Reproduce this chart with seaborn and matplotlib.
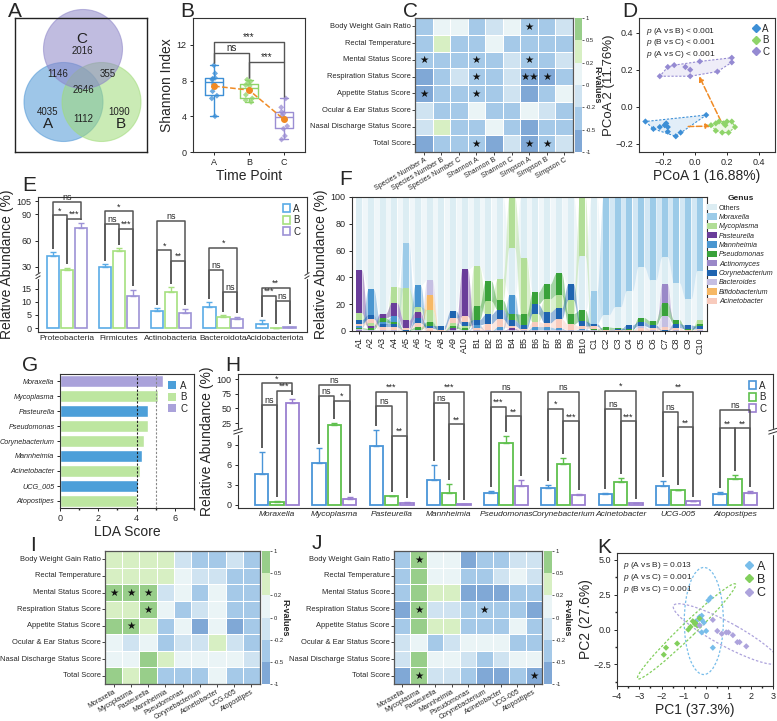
import numpy as np
import pandas as pd
import matplotlib
matplotlib.use("Agg")
import matplotlib.pyplot as plt
import seaborn as sns
from matplotlib.patches import Circle, Polygon, Ellipse, Patch
from matplotlib.colors import ListedColormap, BoundaryNorm
from matplotlib.lines import Line2D
from matplotlib.ticker import MultipleLocator

# ======================= DATA =======================
groups = ["A", "B", "C"]

# Panel A (Venn counts)
venn_set_labels = ["A", "B", "C"]
venn_only = [4035, 1090, 2016]          # A only, B only, C only
venn_pairs = [1112, 1146, 355]          # AB, AC, BC
venn_all = 2646

# Panel B (Shannon index per sample)
shannon_A = [9.7, 8.8, 8.3, 8.2, 8.1, 7.6, 6.8, 6.3, 6.0, 4.0]
shannon_B = [8.1, 7.9, 7.7, 7.5, 7.4, 6.9, 6.4, 6.0, 5.8, 5.6]
shannon_C = [6.0, 5.0, 4.5, 4.3, 4.1, 3.8, 2.9, 2.6, 1.8, 1.4]

# Panel C / I / J heatmaps
hm_rows = ["Body Weight Gain Ratio", "Rectal Temperature", "Mental Status Score",
           "Respiration Status Score", "Appetite Status Score", "Ocular & Ear Status Score",
           "Nasal Discharge Status Score", "Total Score"]
C_cols = ["Species Number A", "Species Number B", "Species Number C", "Shannon A",
          "Shannon B", "Shannon C", "Simpson A", "Simpson B", "Simpson C"]
C_vals = [
    [-0.3, 0.1, 0.1, -0.3, -0.1, 0.1, -0.3, -0.3, -0.1],
    [-0.3, 0.3, -0.3, -0.3, 0.1, -0.3, -0.4, -0.3, -0.3],
    [-0.4, -0.3, -0.3, -0.4, -0.3, -0.1, -0.4, -0.3, -0.1],
    [-0.6, -0.4, -0.1, -0.45, -0.3, -0.15, -0.6, -0.55, -0.3],
    [-0.55, -0.4, -0.3, -0.45, -0.3, -0.15, -0.55, -0.3, 0.05],
    [-0.1, -0.3, -0.3, 0.05, -0.3, -0.3, 0.05, -0.1, -0.3],
    [-0.15, 0.3, -0.3, -0.3, 0.05, -0.3, -0.55, -0.3, -0.3],
    [-0.55, -0.3, -0.3, -0.45, -0.55, -0.15, -0.55, -0.4, -0.15],
]
C_stars = [(0, 6, "★"), (2, 0, "★"), (2, 3, "★"), (2, 6, "★"), (3, 3, "★"),
           (3, 6, "★★"), (3, 7, "★"), (4, 0, "★"), (4, 3, "★"), (7, 3, "★"),
           (7, 6, "★"), (7, 7, "★")]

genus9 = ["Moraxella", "Mycoplasma", "Pasteurella", "Mannheimia", "Pseudomonas",
          "Corynebacterium", "Acinetobacter", "UCG-005", "Atopostipes"]
I_vals = [
    [0.3, 0.3, 0.3, 0.3, -0.1, -0.3, -0.3, -0.1, -0.3],
    [0.3, 0.3, 0.3, 0.3, 0.05, -0.1, -0.1, -0.3, -0.3],
    [0.6, 0.6, 0.6, -0.1, 0.05, -0.3, 0.05, -0.3, -0.3],
    [0.3, 0.3, 0.6, 0.05, -0.3, -0.1, 0.05, -0.3, -0.3],
    [0.6, 0.6, 0.3, -0.3, 0.05, -0.6, 0.05, -0.6, -0.3],
    [0.05, -0.1, 0.05, -0.3, -0.1, -0.1, 0.3, -0.1, -0.3],
    [0.05, 0.05, 0.6, 0.3, 0.05, 0.05, 0.05, 0.05, -0.1],
    [0.6, 0.3, 0.6, -0.3, -0.3, -0.3, 0.05, -0.3, -0.3],
]
I_stars = [(2, 0, "★"), (2, 1, "★"), (2, 2, "★"), (3, 2, "★"), (4, 1, "★")]
J_vals = [
    [-0.3, 0.6, 0.05, 0.05, -0.6, -0.3, -0.3, -0.1, -0.1],
    [-0.3, 0.6, 0.05, 0.05, -0.3, -0.3, -0.1, 0.05, -0.1],
    [-0.3, 0.6, 0.3, 0.3, -0.6, -0.6, -0.6, -0.3, -0.3],
    [-0.6, 0.6, -0.1, -0.1, -0.3, -0.3, -0.3, -0.3, -0.6],
    [-0.3, 0.6, 0.3, 0.3, -0.3, -0.3, -0.3, 0.05, -0.3],
    [-0.1, 0.05, -0.3, -0.1, 0.05, 0.05, 0.05, -0.3, -0.3],
    [-0.1, 0.6, 0.05, 0.05, -0.1, -0.3, -0.1, 0.05, 0.05],
    [-0.6, 0.6, -0.1, -0.1, -0.3, -0.6, -0.6, -0.3, -0.6],
]
J_stars = [(0, 1, "★"), (3, 1, "★"), (3, 5, "★"), (7, 1, "★"), (7, 8, "★")]

# Panel D (PCoA)
D_A_x = [-0.31, -0.26, -0.22, -0.19, -0.18, -0.17, -0.17, -0.12, -0.09, 0.07]
D_A_y = [-0.08, -0.12, -0.11, -0.10, -0.09, -0.11, -0.135, -0.16, -0.14, -0.045]
D_B_x = [0.10, 0.13, 0.15, 0.18, 0.19, 0.20, 0.23, 0.25, 0.21, 0.17, 0.13]
D_B_y = [-0.10, -0.09, -0.08, -0.09, -0.10, -0.08, -0.08, -0.11, -0.14, -0.14, -0.13]
D_C_x = [-0.22, -0.17, -0.13, -0.06, -0.03, 0.03, -0.03, 0.14, 0.23, 0.23]
D_C_y = [0.165, 0.215, 0.225, 0.215, 0.20, 0.245, 0.165, 0.19, 0.265, 0.24]
D_pvals = ["(A vs B) < 0.001", "(B vs C) < 0.001", "(A vs C) < 0.001"]

# Panel E (phylum abundance, mean and SE)
phyla = ["Proteobacteria", "Firmicutes", "Actinobacteria", "Bacteroidota", "Acidobacteriota"]
E_A = [42.0, 30.0, 6.5, 7.9, 1.6]
E_A_err = [5.0, 3.2, 1.0, 1.9, 1.3]
E_B = [26.5, 48.0, 13.7, 4.2, 0.15]
E_B_err = [2.3, 3.5, 1.8, 0.7, 0.05]
E_C = [75.0, 12.4, 5.6, 3.3, 0.3]
E_C_err = [4.8, 2.2, 1.8, 1.0, 0.05]
E_sig = [(0, 0, 2, 104, "ns"), (0, 0, 1, 89, "*"), (0, 1, 2, 85, "***"),
         (1, 0, 2, 93.5, "*"), (1, 0, 1, 79, "ns"), (1, 1, 2, 73.5, "***"),
         (2, 0, 2, 82, "ns"), (2, 0, 1, 49, "*"), (2, 1, 2, 37, "**"),
         (3, 0, 2, 52, "*"), (3, 0, 1, 26.5, "ns"), (3, 1, 2, 13.8, "ns"),
         (4, 0, 2, 15.4, "**"), (4, 0, 1, 12.2, "***"), (4, 1, 2, 10.3, "ns")]

# Panel F (genus composition per sample, %)
samples = [f"A{i}" for i in range(1, 11)] + [f"B{i}" for i in range(1, 11)] + [f"C{i}" for i in range(1, 11)]
F_Moraxella = [0, 0, 0, 0, 34, 0, 0, 0, 0, 0] + [0] * 10 + [24, 88, 82, 70, 52, 62, 45, 64, 76, 55]
F_Mycoplasma = [5, 2, 0, 12, 24, 4, 9, 0, 2, 2] + [30, 10, 16, 38, 42, 6, 10, 10, 10, 44] + [0, 0, 0, 0, 0, 0, 0, 0, 0, 3]
F_Pasteurella = [32, 2, 3, 10, 6, 4, 0, 0, 1, 35] + [0, 0, 0, 1, 0, 0, 0, 0, 0, 0] + [0] * 10
F_Mannheimia = [1, 19, 2, 4, 0, 16, 0, 0, 0, 0] + [2, 0, 2, 14, 0, 2, 2, 1, 0, 1] + [0] * 10
F_Pseudomonas = [1, 1, 3, 2, 0.5, 2, 3, 0, 2, 1] + [10, 15, 7, 5, 8, 9, 11, 16, 8, 8] + [1, 2, 1, 1, 3, 3, 10, 3, 1, 2]
F_Actinomyces = [0.5, 0, 0, 0, 0, 0, 0, 0, 0, 0] + [0] * 10 + [0, 0, 0, 0, 0, 0, 14, 0, 0, 0]
F_Corynebacterium = [3, 3, 2, 2, 0.5, 4, 2, 3, 5, 3] + [4, 7, 7, 4, 3, 7, 8, 8, 12, 4] + [2, 0.5, 1, 3, 3, 2, 1, 3, 3, 2]
F_Bacteroides = [1, 1, 1, 1, 0, 1, 11, 0, 1, 1] + [0.5, 0.5, 1, 1, 0.5, 1, 1, 1, 1, 0.5] + [0.5, 0, 0, 0, 2, 0.5, 8, 0.5, 0, 0.5]
F_Bifidobacterium = [0, 0, 0, 0, 0, 0, 11, 0, 0, 0] + [0] * 10 + [0] * 10
F_Acinetobacter = [2, 3, 2, 2, 1, 3, 2, 1, 4, 4] + [2, 5, 6, 2, 1, 4, 3, 7, 4, 2] + [2, 0.5, 0.5, 0.5, 2, 2, 2, 2, 0.5, 1]

# Panel G (LEfSe)
G_genus = ["Moraxella", "Mycoplasma", "Pasteurella", "Pseudomonas", "Corynebacterium",
           "Mannheimia", "Acinetobacter", "UCG_005", "Atopostipes"]
G_score = [5.4, 5.1, 4.6, 4.6, 4.4, 4.3, 4.2, 4.1, 4.0]
G_group = ["C", "B", "A", "B", "B", "A", "B", "A", "B"]

# Panel H (genus abundance, mean and SE)
H_A = [4.65, 6.25, 8.85, 3.65, 1.75, 2.5, 1.6, 2.9, 1.6]
H_A_err = [3.2, 2.25, 4.0, 2.35, 0.35, 0.5, 0.15, 0.7, 0.3]
H_B = [0.4, 22.2, 1.3, 1.75, 9.25, 6.1, 3.4, 2.2, 3.9]
H_B_err = [0.15, 2.3, 0.05, 1.4, 1.05, 0.9, 0.6, 0.1, 0.5]
H_C = [58.7, 0.9, 0.35, 0.1, 2.85, 1.45, 0.3, 0.6, 1.8]
H_C_err = [6.9, 0.3, 0.05, 0.02, 0.9, 0.15, 0.05, 0.05, 0.3]
H_sig = [(0, 0, 2, 93, "*"), (0, 0, 1, 55.7, "ns"), (0, 1, 2, 80, "***"),
         (1, 0, 2, 91, "ns"), (1, 0, 1, 72, "ns"), (1, 1, 2, 62.7, "*"),
         (2, 0, 2, 79, "***"), (2, 0, 1, 54, "ns"), (2, 1, 2, 10.3, "**"),
         (3, 0, 2, 79, "***"), (3, 0, 1, 60, "ns"), (3, 1, 2, 22.7, "**"),
         (4, 0, 2, 78, "ns"), (4, 0, 1, 52.8, "***"), (4, 1, 2, 36.6, "**"),
         (5, 0, 2, 78, "ns"), (5, 0, 1, 49, "*"), (5, 1, 2, 28, "***"),
         (6, 0, 2, 80, "*"), (6, 0, 1, 49, "ns"), (6, 1, 2, 28, "***"),
         (7, 0, 2, 78, "**"), (7, 0, 1, 43.6, "ns"), (7, 1, 2, 17.5, "**"),
         (8, 0, 2, 47, "ns"), (8, 0, 1, 16, "**"), (8, 1, 2, 16, "**")]

# Panel K (PCA)
K_A_x = [0.2, 0.1, -0.2, -0.3, -0.45, -0.2, -0.1, -0.3, 0.0, -0.2, 0.3]
K_A_y = [2.3, 2.1, 1.0, 0.9, 0.6, 0.7, 0.5, 0.3, -0.1, -0.2, -1.3]
K_B_x = [-0.6, -0.5, -0.4, -0.5, -0.7, -0.8, -1.3, -1.8, -1.9, -0.3]
K_B_y = [0.6, 0.5, 0.3, 0.4, 0.2, 0.0, -1.0, -1.3, -1.8, 0.8]
K_C_x = [0.3, 0.5, 0.9, 1.0, 1.2, 1.4, 1.5, 1.8, -0.3, 0.7]
K_C_y = [0.7, -0.1, -0.2, -0.2, -0.4, -0.9, -0.9, -1.2, 0.3, -0.3]
K_pvals = ["(A vs B) = 0.013", "(A vs C) = 0.001", "(B vs C) = 0.001"]

# ======================= STYLE =======================
sns.set_theme(style="ticks")
plt.rcParams.update({
    "font.family": ["Liberation Sans", "DejaVu Sans"],
    "mathtext.fontset": "custom", "mathtext.rm": "Liberation Sans",
    "mathtext.it": "Liberation Sans:italic",
    "axes.linewidth": 0.8, "axes.edgecolor": "#333333",
    "xtick.major.size": 2.5, "ytick.major.size": 2.5,
    "xtick.major.width": 0.7, "ytick.major.width": 0.7,
    "xtick.minor.size": 1.5, "ytick.minor.size": 1.5,
    "xtick.labelsize": 6.5, "ytick.labelsize": 6.5,
    "xtick.major.pad": 2, "ytick.major.pad": 2,
})

W, H = 777, 721
fig = plt.figure(figsize=(W / 100, H / 100), dpi=100)


def place(x0, y0, x1, y1):
    return fig.add_axes([x0 / W, 1 - y1 / H, (x1 - x0) / W, (y1 - y0) / H])


def letter(x, y, s):
    fig.text(x / W, 1 - y / H, s, fontsize=15, va="top", ha="left")


for (lx, ly, s) in [(8, 2, "A"), (180, 2, "B"), (403, 2, "C"), (622, 2, "D"), (22, 176, "E"),
                    (339, 170, "F"), (22, 356, "G"), (225, 356, "H"), (30, 536, "I"),
                    (312, 534, "J"), (597, 538, "K")]:
    letter(lx, ly, s)

# ======================= A: Venn =======================
axA = place(15, 18, 147, 152)
axA.set_xlim(15, 147)
axA.set_ylim(152, 18)
axA.set_xticks([])
axA.set_yticks([])
for sp in axA.spines.values():
    sp.set_color("#222222")
    sp.set_linewidth(1)
for (cx, cy), col in [((63.5, 102), "#4f97d6"), ((101.5, 102), "#9fdb78"), ((83, 49), "#8d85c8")]:
    axA.add_patch(Circle((cx, cy), 39.5, facecolor=col, alpha=0.55, edgecolor=col, lw=0.8, clip_on=False))
venn_text = [(82, 39, venn_set_labels[2], 11), (82, 51, venn_only[2], 7), (58, 74, venn_pairs[1], 7),
             (108, 74, venn_pairs[2], 7), (83, 90, venn_all, 7), (48, 112, venn_only[0], 7),
             (48, 124, venn_set_labels[0], 11), (83, 119, venn_pairs[0], 7),
             (119, 112, venn_only[1], 7), (121, 124, venn_set_labels[1], 11)]
for x, y, t, fs in venn_text:
    axA.text(x, y, str(t), ha="center", va="center", fontsize=fs, color="#222222")

# ======================= B: Shannon boxplot =======================
axB = place(193, 18, 305, 152)
palB = {"A": "#3d8fd6", "B": "#8fd46a", "C": "#9b8ed3"}
dfB = pd.DataFrame({"group": ["A"] * len(shannon_A) + ["B"] * len(shannon_B) + ["C"] * len(shannon_C),
                    "value": shannon_A + shannon_B + shannon_C})
sns.boxplot(data=dfB, x="group", y="value", hue="group", palette=palB, fill=False, width=0.5,
            linewidth=1, showfliers=False, legend=False, ax=axB)
sns.stripplot(data=dfB, x="group", y="value", hue="group", palette=palB, size=3, marker="D",
              jitter=0.1, alpha=0.75, legend=False, ax=axB)
means = dfB.groupby("group")["value"].mean().reindex(groups)
axB.plot(range(3), means.values, ls="--", color="#f08a24", lw=1.1, marker="o", ms=4, zorder=5)


def bracket(ax, xa, xb, y, ya, yb, txt, fs=6.5, lw=1.0, color="#555555"):
    ax.plot([xa, xa, xb, xb], [ya, y, y, yb], color=color, lw=lw, solid_capstyle="butt", zorder=6)
    ax.text((xa + xb) / 2, y, txt, ha="center", va="bottom", fontsize=fs, zorder=7)


bracket(axB, 0, 2, 12.3, 9.95, 10.1, "***", fs=7)
bracket(axB, 0, 1, 11.1, 9.95, 8.3, "ns", fs=7)
bracket(axB, 1, 2, 10.1, 8.3, 6.2, "***", fs=7)
axB.set_ylim(0, 15)
axB.set_yticks([0, 4, 8, 12])
axB.set_xlim(-0.6, 2.6)
axB.set_ylabel("Shannon Index", fontsize=10, labelpad=2)
axB.set_xlabel("Time Point", fontsize=10, labelpad=1)

# ======================= heatmap helper =======================
hm_colors = ["#80a8d6", "#a5c9e8", "#cfe3f1", "#eaf4f6", "#d7efc3", "#98ce8a"]
hm_bounds = [-1, -0.5, -0.2, 0, 0.2, 0.5, 1]
hm_cmap = ListedColormap(hm_colors)
hm_norm = BoundaryNorm(hm_bounds, hm_cmap.N)


def heat(ax, cax, vals, stars, cols):
    df = pd.DataFrame(vals, index=hm_rows, columns=cols)
    sns.heatmap(df, ax=ax, cbar_ax=cax, cmap=hm_cmap, norm=hm_norm, linewidths=0.7,
                linecolor="white", cbar_kws={"ticks": hm_bounds})
    for r, c, s in stars:
        ax.text(c + 0.5, r + 0.52, s, ha="center", va="center", fontsize=7.5,
                family=["DejaVu Sans"], color="#111111")
    for sp in ax.spines.values():
        sp.set_visible(True)
        sp.set_color("#555555")
        sp.set_linewidth(0.9)
    ax.tick_params(length=2, width=0.6, pad=1)
    ax.set_xticklabels(cols, rotation=30, ha="right", rotation_mode="anchor", fontsize=5.0)
    ax.set_yticklabels(hm_rows, rotation=0, fontsize=5.4)
    cax.tick_params(labelsize=4.2, length=1.5, width=0.5, pad=1)
    cax.set_yticklabels(["-1", "-0.5", "-0.2", "0", "0.2", "0.5", "1"])
    cax.set_ylabel("R-values", rotation=270, fontsize=6.5, fontweight="bold", labelpad=4)
    for sp in cax.spines.values():
        sp.set_visible(False)


heat(place(415, 18, 573, 152), place(575, 18, 582, 152), C_vals, C_stars, C_cols)
heat(place(105, 551, 260, 684), place(262, 551, 270, 684), I_vals, I_stars, genus9)
heat(place(394, 551, 542, 684), place(544, 551, 552, 684), J_vals, J_stars, genus9)

# ======================= D: PCoA =======================
axD = place(639, 18, 775, 152)
palD = {"A": "#3d8fd6", "B": "#8fd46a", "C": "#958ad2"}
dfD = pd.DataFrame({"x": D_A_x + D_B_x + D_C_x, "y": D_A_y + D_B_y + D_C_y,
                    "g": ["A"] * len(D_A_x) + ["B"] * len(D_B_x) + ["C"] * len(D_C_x)})


def convex_hull(pts):
    pts = sorted(set(map(tuple, pts)))
    def cross(o, a, b):
        return (a[0] - o[0]) * (b[1] - o[1]) - (a[1] - o[1]) * (b[0] - o[0])
    lower, upper = [], []
    for p in pts:
        while len(lower) >= 2 and cross(lower[-2], lower[-1], p) <= 0:
            lower.pop()
        lower.append(p)
    for p in reversed(pts):
        while len(upper) >= 2 and cross(upper[-2], upper[-1], p) <= 0:
            upper.pop()
        upper.append(p)
    return lower[:-1] + upper[:-1]


for g in groups:
    sub = dfD[dfD.g == g]
    hull = convex_hull(sub[["x", "y"]].values)
    axD.add_patch(Polygon(hull, closed=True, facecolor=palD[g], alpha=0.15, lw=0))
    axD.add_patch(Polygon(hull, closed=True, fill=False, edgecolor=palD[g], ls=(0, (2, 1.5)), lw=0.8))
sns.scatterplot(data=dfD, x="x", y="y", hue="g", palette=palD, marker="D", s=10, linewidth=0,
                legend=False, ax=axD, zorder=4)
cent = dfD.groupby("g")[["x", "y"]].mean().reindex(groups)
axD.annotate("", xy=cent.loc["B"].values, xytext=cent.loc["A"].values,
             arrowprops=dict(arrowstyle="-|>", ls="--", color="#f08a24", lw=1.1,
                             shrinkA=14, shrinkB=9, mutation_scale=7))
axD.annotate("", xy=cent.loc["C"].values, xytext=cent.loc["B"].values,
             arrowprops=dict(arrowstyle="-|>", ls="--", color="#f08a24", lw=1.1,
                             shrinkA=4, shrinkB=7, mutation_scale=7))
axD.set_xlim(-0.35, 0.5)
axD.set_ylim(-0.245, 0.48)
axD.set_xticks([-0.2, 0.0, 0.2, 0.4])
axD.set_yticks([-0.2, 0.0, 0.2, 0.4])
axD.set_xlabel("PCoA 1 (16.88%)", fontsize=10, labelpad=1)
axD.set_ylabel("PCoA 2 (11.76%)", fontsize=9.5, labelpad=0)
for i, t in enumerate(D_pvals):
    axD.text(0.05, 0.94 - i * 0.085, r"$p$ " + t, transform=axD.transAxes, fontsize=6, va="top")
axD.legend(handles=[Line2D([], [], marker="D", ls="", color=palD[g], ms=4) for g in groups],
           labels=groups, loc="upper right", frameon=False, fontsize=7, handletextpad=0.1,
           labelspacing=0.15, borderaxespad=0.2, handlelength=1)


# ======================= broken-axis helpers =======================
def make_scale(brk, k):
    def fwd(y):
        y = np.asarray(y, dtype=float)
        return np.where(y <= brk, y * k, brk * k + (y - brk))

    def inv(t):
        t = np.asarray(t, dtype=float)
        return np.where(t <= brk * k, t / k, brk + (t - brk * k))
    return fwd, inv


def break_marks(ax, fwd, brk, lo, hi):
    t0, t1 = float(fwd(lo)), float(fwd(hi))
    ya = (float(fwd(brk)) - t0) / (t1 - t0)
    for xa in (0, 1):
        ax.plot([xa, xa], [ya - 0.012, ya + 0.012], transform=ax.transAxes, color="white",
                lw=2.5, clip_on=False, zorder=9)
        for dy in (-0.012, 0.012):
            ax.plot([xa - 0.008, xa + 0.008], [ya + dy - 0.01, ya + dy + 0.01], transform=ax.transAxes,
                    color="#333333", lw=0.7, clip_on=False, zorder=10)


def grouped_bars(ax, cats, means_list, errs_list, pal, fwd, inv, sig, gap_t, fs_sig, lw_bar):
    rows = []
    for g, m in zip(groups, means_list):
        for c, v in zip(cats, m):
            rows.append({"cat": c, "group": g, "val": v})
    df = pd.DataFrame(rows)
    sns.barplot(data=df, x="cat", y="val", hue="group", palette=pal, fill=False, width=0.8,
                gap=0.12, linewidth=lw_bar, errorbar=None, legend=False, ax=ax, zorder=3)
    xs, tops = {}, {}
    for gi, cont in enumerate(ax.containers[:3]):
        bars = sorted(cont.patches, key=lambda p: p.get_x())
        for ci, p in enumerate(bars):
            x = p.get_x() + p.get_width() / 2
            h = means_list[gi][ci]
            e = errs_list[gi][ci]
            ax.errorbar(x, h, yerr=[[0], [e]], fmt="none", ecolor=pal[groups[gi]], elinewidth=1,
                        capsize=2.5, capthick=1, zorder=2)
            xs[(ci, gi)] = x
            tops[(ci, gi)] = float(inv(fwd(h + e) + gap_t))
    for ci, ga, gb, lvl, txt in sig:
        bracket(ax, xs[(ci, ga)], xs[(ci, gb)], lvl, tops[(ci, ga)], tops[(ci, gb)], txt,
                fs=fs_sig, lw=1.1)
    ax.legend(handles=[Patch(facecolor="white", edgecolor=pal[g], lw=1.2) for g in groups], labels=groups,
              loc="upper right", frameon=False, fontsize=7, handlelength=0.8, handleheight=0.9,
              handletextpad=0.3, labelspacing=0.15, borderaxespad=0.3)


# ======================= E =======================
axE = place(38, 197, 307, 332)
palE = {"A": "#5aabe6", "B": "#a6e07f", "C": "#9d92d6"}
fE, iE = make_scale(20, 3.0)
axE.set_yscale("function", functions=(fE, iE))
grouped_bars(axE, phyla, [E_A, E_B, E_C], [E_A_err, E_B_err, E_C_err], palE, fE, iE, E_sig, 4, 6.5, 1.2)
axE.set_ylim(-1.5, 110)
axE.set_yticks([0, 5, 10, 15, 30, 60, 90, 105])
axE.set_yticklabels(["0", "5", "10", "15", "30", "60", "90", "105"])
axE.yaxis.set_minor_locator(matplotlib.ticker.NullLocator())
axE.set_xlim(-0.55, 4.6)
axE.set_xlabel("")
axE.set_ylabel("Relative Abundance (%)", fontsize=10, labelpad=2)
axE.tick_params(axis="x", labelsize=6, length=0)
break_marks(axE, fE, 20, -1.5, 110)

# ======================= F =======================
axF = place(352, 197, 707, 331)
gen_order = ["Others", "Moraxella", "Mycoplasma", "Pasteurella", "Mannheimia", "Pseudomonas",
             "Actinomyces", "Corynebacterium", "Bacteroides", "Bifidobacterium", "Acinetobacter"]
gen_colors = ["#dcedf3", "#9ccbe8", "#b2de97", "#6a3d9a", "#4a96d0", "#39a23a", "#9a88c8",
              "#1f64b0", "#c5bfe2", "#f6b865", "#f8cbbd"]
F = {"Moraxella": F_Moraxella, "Mycoplasma": F_Mycoplasma, "Pasteurella": F_Pasteurella,
     "Mannheimia": F_Mannheimia, "Pseudomonas": F_Pseudomonas, "Actinomyces": F_Actinomyces,
     "Corynebacterium": F_Corynebacterium, "Bacteroides": F_Bacteroides,
     "Bifidobacterium": F_Bifidobacterium, "Acinetobacter": F_Acinetobacter}
F = {k: np.array(v, dtype=float) for k, v in F.items()}
F["Others"] = 100 - sum(F.values())
n = len(samples)
bot = {g: np.zeros(n) for g in gen_order}
top = {g: np.zeros(n) for g in gen_order}
for i in range(n):
    vals = sorted([(F[g][i], k, g) for k, g in enumerate(gen_order)], key=lambda t: (t[0], -t[1]))
    cum = 0.0
    for v, k, g in vals:
        bot[g][i] = cum
        cum += v
        top[g][i] = cum
bw = 0.5
tt = np.linspace(0, 1, 24)
ss = 3 * tt ** 2 - 2 * tt ** 3
for g, col in zip(gen_order, gen_colors):
    for i in range(n - 1):
        if F[g][i] <= 0 and F[g][i + 1] <= 0:
            continue
        xa, xb = i + bw / 2, i + 1 - bw / 2
        xx = xa + (xb - xa) * tt
        lo = bot[g][i] + (bot[g][i + 1] - bot[g][i]) * ss
        hi = top[g][i] + (top[g][i + 1] - top[g][i]) * ss
        axF.fill_between(xx, lo, hi, color=col, alpha=0.45, lw=0)
    axF.bar(np.arange(n), F[g], bottom=bot[g], width=bw, color=col, lw=0)
axF.set_xlim(-0.6, n - 0.4)
axF.set_ylim(0, 100)
axF.set_yticks([0, 20, 40, 60, 80, 100])
axF.set_xticks(np.arange(n))
axF.set_xticklabels(samples, rotation=90, fontsize=6.5)
axF.set_ylabel("Relative Abundance (%)", fontsize=10, labelpad=2)
legF = axF.legend(handles=[Patch(facecolor=c, lw=0) for c in gen_colors], labels=gen_order,
                  title="Genus", loc="upper left", bbox_to_anchor=(0.99, 1.04), frameon=False,
                  fontsize=5.1, title_fontsize=6.0, handlelength=1.4, handleheight=1.0,
                  labelspacing=0.25, handletextpad=0.3, borderaxespad=0.1)
legF.get_title().set_fontweight("bold")
for k, t in enumerate(legF.get_texts()):
    if k > 0:
        t.set_fontstyle("italic")

# ======================= G: LDA =======================
axG = place(60, 374, 194, 508)
palG = {"A": "#4c9fd9", "B": "#bde6a0", "C": "#aaa2da"}
dfG = pd.DataFrame({"genus": G_genus, "score": G_score, "group": G_group})
sns.barplot(data=dfG, y="genus", x="score", hue="group", hue_order=groups, palette=palG,
            dodge=False, width=0.8, saturation=1, legend=False, ax=axG, orient="h")
axG.axvline(4, color="#222222", ls=(0, (2, 1.5)), lw=0.8)
axG.axvline(5, color="#888888", ls=(0, (2, 1.5)), lw=0.8)
axG.set_xlim(0, 7)
axG.set_xticks([0, 2, 4, 6])
axG.xaxis.set_minor_locator(MultipleLocator(1))
axG.set_ylabel("")
axG.set_xlabel("LDA Score", fontsize=10, labelpad=1)
axG.tick_params(axis="y", labelsize=5.2, pad=1.5)
for t in axG.get_yticklabels():
    t.set_fontstyle("italic")
axG.legend(handles=[Patch(facecolor=palG[g], lw=0) for g in groups], labels=groups, loc="upper right",
           bbox_to_anchor=(1.0, 1.0), frameon=False, fontsize=7, handlelength=0.9, handleheight=0.9,
           handletextpad=0.4, labelspacing=0.15, borderaxespad=0.3)

# ======================= H =======================
axH = place(238, 374, 773, 508)
palH = {"A": "#4a95d8", "B": "#5fc04d", "C": "#9a7fd0"}
fH, iH = make_scale(11, 11.5)
axH.set_yscale("function", functions=(fH, iH))
grouped_bars(axH, genus9, [H_A, H_B, H_C], [H_A_err, H_B_err, H_C_err], palH, fH, iH, H_sig, 7, 6.5, 1.3)
axH.set_ylim(-0.45, 109)
axH.set_yticks([0, 3, 6, 9, 25, 50, 75, 100])
axH.set_yticklabels(["0", "3", "6", "9", "25", "50", "75", "100"])
axH.yaxis.set_minor_locator(matplotlib.ticker.NullLocator())
axH.set_xlim(-0.68, 8.66)
axH.set_xlabel("")
axH.set_ylabel("Relative Abundance (%)", fontsize=10, labelpad=2)
axH.tick_params(axis="x", labelsize=6, length=0)
for t in axH.get_xticklabels():
    t.set_fontstyle("italic")
break_marks(axH, fH, 11, -0.45, 109)

# ======================= K: PCA =======================
axK = place(617, 553, 773, 686)
palK = {"A": "#78bdea", "B": "#82cf5c", "C": "#ada3dc"}
dfK = pd.DataFrame({"x": K_A_x + K_B_x + K_C_x, "y": K_A_y + K_B_y + K_C_y,
                    "g": ["A"] * len(K_A_x) + ["B"] * len(K_B_x) + ["C"] * len(K_C_x)})
for g in groups:
    sub = dfK[dfK.g == g]
    cov = np.cov(sub.x, sub.y)
    vals, vecs = np.linalg.eigh(cov)
    order = vals.argsort()[::-1]
    vals, vecs = vals[order], vecs[:, order]
    ang = np.degrees(np.arctan2(vecs[1, 0], vecs[0, 0]))
    nstd = 3.8
    axK.add_patch(Ellipse((sub.x.mean(), sub.y.mean()), 2 * nstd * np.sqrt(vals[0]),
                          2 * nstd * np.sqrt(vals[1]), angle=ang, fill=False, edgecolor=palK[g],
                          ls=(0, (2, 1.5)), lw=0.9))
sns.scatterplot(data=dfK, x="x", y="y", hue="g", palette=palK, marker="D", s=10, linewidth=0,
                legend=False, ax=axK, zorder=4)
axK.set_xlim(-4, 3)
axK.set_ylim(-4.05, 5.5)
axK.set_xticks(range(-4, 4))
axK.set_yticks([-2.5, 0.0, 2.5, 5.0])
axK.xaxis.set_minor_locator(MultipleLocator(0.5))
axK.yaxis.set_minor_locator(MultipleLocator(1.25))
axK.set_xlabel("PC1 (37.3%)", fontsize=10, labelpad=1)
axK.set_ylabel("PC2 (27.6%)", fontsize=10, labelpad=0)
for i, t in enumerate(K_pvals):
    axK.text(0.04, 0.95 - i * 0.09, r"$p$ " + t, transform=axK.transAxes, fontsize=6, va="top")
axK.legend(handles=[Line2D([], [], marker="D", ls="", color=palK[g], ms=4.5) for g in groups],
           labels=groups, loc="upper right", frameon=False, fontsize=9, handletextpad=0.1,
           labelspacing=0.1, borderaxespad=0.2, handlelength=1)

fig.savefig("out.png", dpi=100)
